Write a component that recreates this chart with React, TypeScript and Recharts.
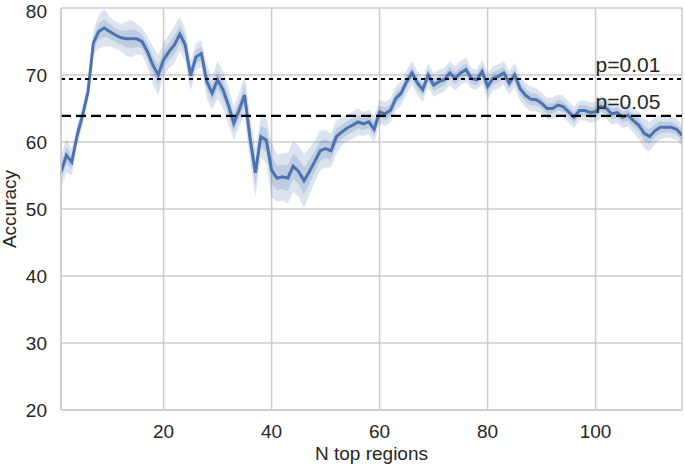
import React from "react";
import {
  ComposedChart,
  Area,
  Line,
  XAxis,
  YAxis,
  CartesianGrid,
  ReferenceLine,
  ReferenceDot,
} from "recharts";

// accuracy per number of top regions (N = 1..116)
const accuracy = [
  55.5, 58, 57, 61, 64, 67.5, 74.8, 76.5, 77, 76.5,
  76, 75.6, 75.4, 75.4, 75.4, 75, 73.5, 71.5, 70, 72.3,
  73.5, 74.5, 76.1, 74.5, 69.9, 72.7, 73.2, 69, 67.3, 69.3,
  67.8, 65.5, 62.8, 64.8, 67, 60.6, 55.4, 60.8, 60.3, 55.8,
  54.6, 54.8, 54.6, 56.4, 55.6, 54.2, 55.6, 57.1, 58.7, 59,
  58.7, 60.8, 61.5, 62.1, 62.5, 63, 62.7, 63, 61.9, 64.5,
  64.2, 64.7, 66.5, 67.3, 69, 70.3, 68.8, 67.8, 70, 68.5,
  69, 69.3, 70.3, 69.5, 70.3, 70.8, 69.5, 69.3, 70.5, 68.3,
  69.5, 69.8, 70.3, 68.8, 70, 68, 67, 66.4, 66.3, 65.8,
  65, 65, 65.5, 65.3, 64.5, 63.7, 64.7, 64.7, 64.4, 64.5,
  65.3, 65, 64.2, 64.4, 63.7, 64, 63.2, 62.5, 61.3, 60.8,
  61.7, 62.2, 62.2, 62.2, 61.9, 61,
];

// half-width of the outer (light) band
const outerHalf = [
  2.5, 2.5, 2, 1.5, 1.5, 1.5, 1.8, 2.5, 2.8, 2.2,
  2, 2, 2.5, 2.8, 2.3, 2, 2.3, 2.8, 3, 2.5,
  2.5, 2.8, 2.5, 2.5, 2.3, 2, 2, 2.5, 2.5, 2.8,
  2.8, 2.8, 2.5, 2.5, 3, 3.5, 3.5, 3, 3.5, 4,
  3.5, 3.5, 3.8, 3.8, 3.8, 4, 3.5, 3, 3, 2.8,
  2.5, 2.5, 2, 2, 2, 2, 1.8, 1.8, 2, 1.8,
  1.8, 1.8, 1.8, 1.8, 1.8, 1.8, 1.8, 1.8, 1.8, 1.8,
  1.8, 1.8, 1.8, 1.8, 1.8, 1.8, 1.5, 1.5, 1.8, 2,
  1.8, 1.8, 1.8, 1.8, 1.8, 1.8, 1.8, 1.8, 1.7, 1.6,
  1.6, 1.6, 1.6, 1.6, 1.6, 1.6, 1.5, 1.5, 1.5, 1.5,
  1.6, 1.6, 1.6, 1.6, 1.6, 1.7, 1.8, 2, 2.2, 2.2,
  2, 1.8, 1.6, 1.6, 1.6, 1.6,
];

// half-width of the inner (darker) band
const innerHalf = [
  1.2, 1.2, 1, 0.8, 0.8, 0.8, 0.9, 1.2, 1.3, 1.1,
  1, 1, 1.2, 1.4, 1.2, 1, 1.2, 1.4, 1.5, 1.3,
  1.3, 1.4, 1.3, 1.3, 1.2, 1, 1, 1.2, 1.3, 1.4,
  1.4, 1.4, 1.3, 1.3, 1.5, 1.8, 1.8, 1.5, 1.8, 2,
  1.8, 1.8, 1.9, 1.9, 1.9, 2, 1.8, 1.5, 1.5, 1.4,
  1.3, 1.2, 1, 1, 1, 1, 0.9, 0.9, 1, 0.9,
  0.9, 0.9, 0.9, 0.9, 0.9, 0.9, 0.9, 0.9, 0.9, 0.9,
  0.9, 0.9, 0.9, 0.9, 0.9, 0.9, 0.8, 0.8, 0.9, 1,
  0.9, 0.9, 0.9, 0.9, 0.9, 0.9, 0.9, 0.9, 0.9, 0.8,
  0.8, 0.8, 0.8, 0.8, 0.8, 0.8, 0.8, 0.8, 0.8, 0.8,
  0.8, 0.8, 0.8, 0.8, 0.8, 0.9, 0.9, 1, 1.1, 1.1,
  1, 0.9, 0.8, 0.8, 0.8, 0.8,
];

const N_START = 1;
const xTicks = [20, 40, 60, 80, 100];
const yTicks = [20, 30, 40, 50, 60, 70, 80];

const thresholds = [
  { label: "p=0.01", value: 69.4, labelY: 70.5, dash: "4 4" },
  { label: "p=0.05", value: 63.9, labelY: 64.9, dash: "10 5" },
];
const LABEL_X = 100;

const BLUE = "#4c72b0";
const GRID = "#cccccc";
const TEXT = "#262626";
const FONT = "'Liberation Sans', Arial, sans-serif";

const data = accuracy.map((v, i) => ({
  n: N_START + i,
  acc: v,
  outer: [v - outerHalf[i], v + outerHalf[i]],
  inner: [v - innerHalf[i], v + innerHalf[i]],
}));

const tickStyle = { fill: TEXT, fontSize: 19, fontFamily: FONT };

export default function App() {
  return (
    <div style={{ position: "absolute", left: 0, top: 0, background: "#fff" }}>
      <ComposedChart
        width={685}
        height={471}
        data={data}
        margin={{ top: 8, right: 3, left: 0, bottom: 0 }}
      >
        <CartesianGrid stroke={GRID} strokeWidth={1.5} />
        <XAxis
          dataKey="n"
          type="number"
          domain={[1, 116]}
          ticks={xTicks}
          allowDataOverflow
          height={61}
          tickLine={false}
          axisLine={{ stroke: GRID, strokeWidth: 1.5 }}
          tickMargin={9}
          tick={tickStyle}
          label={{
            content: () => (
              <text
                x={371.5}
                y={460}
                textAnchor="middle"
                fill={TEXT}
                fontSize={19}
                fontFamily={FONT}
              >
                N top regions
              </text>
            ),
          }}
        />
        <XAxis
          xAxisId="top"
          orientation="top"
          dataKey="n"
          type="number"
          domain={[1, 116]}
          height={0}
          tick={false}
          tickLine={false}
          axisLine={{ stroke: GRID, strokeWidth: 1.5 }}
        />
        <YAxis
          type="number"
          domain={[20, 80]}
          ticks={yTicks}
          allowDataOverflow
          width={61}
          tickLine={false}
          axisLine={{ stroke: GRID, strokeWidth: 1.5 }}
          tickMargin={8}
          tick={tickStyle}
          label={{
            content: () => (
              <text
                x={16}
                y={209}
                transform="rotate(-90 16 209)"
                textAnchor="middle"
                fill={TEXT}
                fontSize={19}
                fontFamily={FONT}
              >
                Accuracy
              </text>
            ),
          }}
        />
        <YAxis
          yAxisId="right"
          orientation="right"
          type="number"
          domain={[20, 80]}
          width={0}
          tick={false}
          tickLine={false}
          axisLine={{ stroke: GRID, strokeWidth: 1.5 }}
        />
        <Area
          type="linear"
          dataKey="outer"
          stroke="none"
          fill={BLUE}
          fillOpacity={0.2}
          isAnimationActive={false}
        />
        <Area
          type="linear"
          dataKey="inner"
          stroke="none"
          fill={BLUE}
          fillOpacity={0.2}
          isAnimationActive={false}
        />
        <Line
          type="linear"
          dataKey="acc"
          stroke={BLUE}
          strokeWidth={3}
          dot={false}
          isAnimationActive={false}
        />
        {thresholds.map((t) => (
          <ReferenceLine
            key={t.label}
            y={t.value}
            stroke="#000"
            strokeWidth={2.2}
            strokeDasharray={t.dash}
          />
        ))}
        {thresholds.map((t) => (
          <ReferenceDot
            key={t.label + "-lbl"}
            x={LABEL_X}
            y={t.labelY}
            r={0}
            fill="none"
            stroke="none"
            label={{
              content: (props: any) => {
                const vb = props.viewBox || {};
                return (
                  <text
                    x={vb.x}
                    y={vb.y}
                    fill={TEXT}
                    fontSize={21}
                    fontFamily={FONT}
                  >
                    {t.label}
                  </text>
                );
              },
            }}
          />
        ))}
      </ComposedChart>
    </div>
  );
}
